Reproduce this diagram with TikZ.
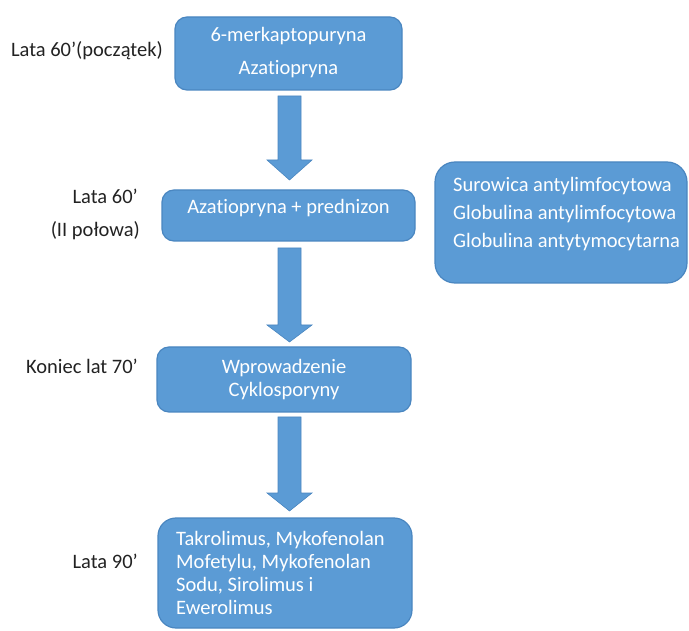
\documentclass[tikz,border=0pt]{standalone}
\usepackage{fontspec}
\setmainfont[Ligatures={NoCommon}]{Carlito}
\definecolor{boxblue}{HTML}{5B9BD5}
\definecolor{boxedge}{HTML}{4A86C0}
\definecolor{labelgray}{HTML}{222222}
\begin{document}
\begin{tikzpicture}[x=1pt,y=-1pt,
  box/.style={draw=boxedge, fill=boxblue, line width=1.2pt, rounded corners=12pt, inner sep=0pt},
  boxtext/.style={text=white, font=\fontsize{20.5}{23}\selectfont, inner sep=0pt},
  period/.style={text=labelgray, font=\fontsize{20.5}{23}\selectfont, inner sep=0pt, anchor=east},
  blockarrow/.style={fill=boxblue, draw=boxedge, line width=0.6pt}]
\useasboundingbox (0,0) rectangle (689,631);
% boxes
\node[box, minimum width=227pt, minimum height=73pt] (b1) at (288.5,53.5) {};
\node[box, minimum width=253pt, minimum height=51pt] (b2) at (288.5,215.5) {};
\node[box, minimum width=254pt, minimum height=65pt] (b3) at (284,379.5) {};
\node[box, minimum width=254pt, minimum height=110pt, rounded corners=18pt] (b4) at (285,573) {};
\node[box, minimum width=252pt, minimum height=121pt, rounded corners=20pt] (b5) at (561,222.5) {};
% box texts
\node[boxtext] (t1a) at (288.5,36) {6-merkaptopuryna};
\node[boxtext] (t1b) at (288.5,69) {Azatiopryna};
\node[boxtext] (t2) at (288.5,208) {Azatiopryna + prednizon};
\node[boxtext] (t3a) at (284,368) {Wprowadzenie};
\node[boxtext] (t3b) at (284,391) {Cyklosporyny};
\node[boxtext, anchor=west, align=left] (t4) at (176,573) {Takrolimus, Mykofenolan\\Mofetylu, Mykofenolan\\Sodu, Sirolimus i\\Ewerolimus};
\node[boxtext, anchor=west, align=left, font=\fontsize{20.5}{28}\selectfont] (t5) at (453,214) {Surowica antylimfocytowa\\Globulina antylimfocytowa\\Globulina antytymocytarna};
% period labels
\node[period] (p1) at (163,51) {Lata 60’(początek)};
\node[period] (p2a) at (138,196) {Lata 60’};
\node[period] (p2b) at (140,231) {(II połowa)};
\node[period] (p3) at (138,366) {Koniec lat 70’};
\node[period] (p4) at (138,561) {Lata 90’};
% block arrows
\draw[blockarrow] (278,96) -- (301,96) -- (301,160) -- (312,160) -- (289.5,180) -- (267,160) -- (278,160) -- cycle;
\draw[blockarrow] (278,248) -- (301,248) -- (301,325) -- (312,325) -- (289.5,342) -- (267,325) -- (278,325) -- cycle;
\draw[blockarrow] (278,417) -- (301,417) -- (301,493) -- (312,493) -- (289.5,511) -- (267,493) -- (278,493) -- cycle;
\end{tikzpicture}
\end{document}
